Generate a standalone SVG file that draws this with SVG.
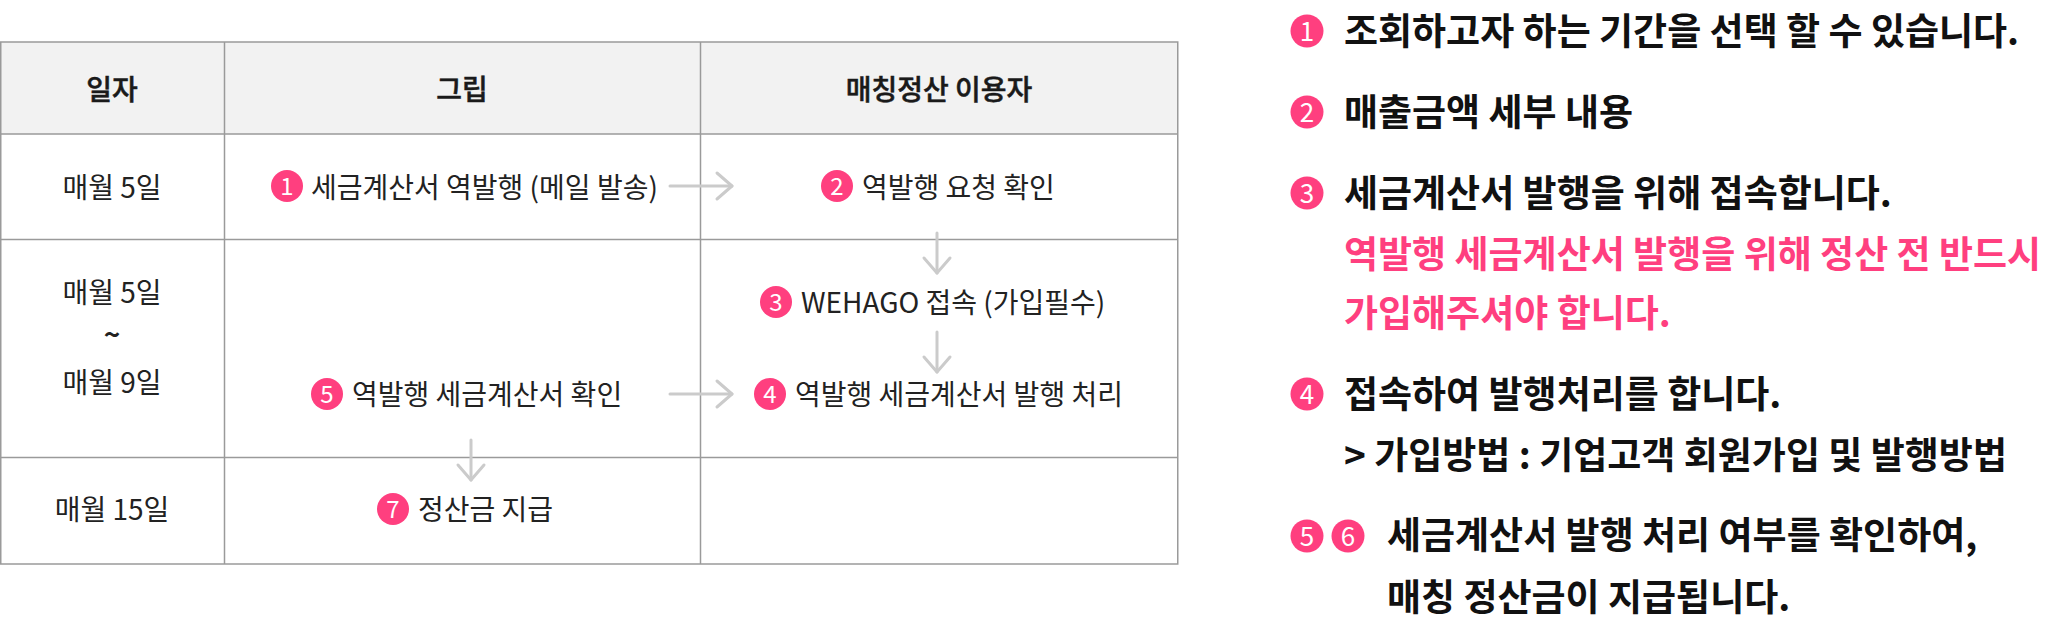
<svg xmlns="http://www.w3.org/2000/svg" width="2048" height="625" viewBox="0 0 2048 625">
<defs>
<style>
.t{font-family:"Noto Sans CJK KR","Noto Sans",sans-serif;font-size:28px;fill:#222;}
.h{font-family:"Noto Sans CJK KR","Noto Sans",sans-serif;font-size:28px;font-weight:500;fill:#1a1a1a;stroke:#1a1a1a;stroke-width:0.5;}
.c{text-anchor:middle;}
.n{font-family:"Noto Sans CJK KR","Noto Sans",sans-serif;font-size:24px;fill:#fff;text-anchor:middle;}
.nb{font-family:"Noto Sans CJK KR","Noto Sans",sans-serif;font-size:26px;fill:#fff;text-anchor:middle;}
.b{font-family:"Noto Sans CJK KR","Noto Sans",sans-serif;font-size:37px;font-weight:700;fill:#111;}
.p{fill:#ff3f7f;}
.grid{stroke:#9a9a9a;stroke-width:1.5;fill:none;}
.conn{stroke:#cbcbcb;stroke-width:3;fill:none;stroke-linecap:round;}
</style>
<marker id="arr" markerUnits="userSpaceOnUse" viewBox="0 0 40 40" markerWidth="40" markerHeight="40" refX="20" refY="20" orient="auto" overflow="visible">
<path d="M5,7 L20,20 L5,33" fill="none" stroke="#cbcbcb" stroke-width="3" stroke-linecap="round" stroke-linejoin="round"/>
</marker>
</defs>
<rect width="2048" height="625" fill="#fff"/>

<g id="table">
<rect x="0.75" y="42" width="1177" height="92" fill="#f2f2f2"/>
<rect class="grid" x="0.75" y="42" width="1177" height="522"/>
<line class="grid" x1="0" y1="134" x2="1178" y2="134"/>
<line class="grid" x1="0" y1="239.5" x2="1178" y2="239.5"/>
<line class="grid" x1="0" y1="457.5" x2="1178" y2="457.5"/>
<line class="grid" x1="224.5" y1="42" x2="224.5" y2="564"/>
<line class="grid" x1="700.5" y1="42" x2="700.5" y2="564"/>
</g>

<g id="header">
<text class="h c" x="112" y="99.5">일자</text>
<text class="h c" x="462" y="99.5">그립</text>
<text class="h c" x="939" y="99.5">매칭정산 이용자</text>
</g>

<g id="dates">
<text class="t c" x="112" y="197.5">매월 5일</text>
<text class="t c" x="112" y="302.5">매월 5일</text>
<text class="t c" x="112" y="345" font-weight="700">~</text>
<text class="t c" x="112" y="392.5">매월 9일</text>
<text class="t c" x="112" y="519.5">매월 15일</text>
</g>

<g id="step1">
<circle class="p" cx="287" cy="186" r="16"/>
<text class="n" x="287" y="194.5">1</text>
<text class="t" x="311" y="197.5">세금계산서 역발행 (메일 발송)</text>
</g>
<g id="step2">
<circle class="p" cx="837" cy="186" r="16"/>
<text class="n" x="837" y="194.5">2</text>
<text class="t" x="862" y="197.5">역발행 요청 확인</text>
</g>
<g id="step3">
<circle class="p" cx="776" cy="302" r="16"/>
<text class="n" x="776" y="310.5">3</text>
<text class="t" x="801" y="312.5">WEHAGO 접속 (가입필수)</text>
</g>
<g id="step4">
<circle class="p" cx="770" cy="394" r="16"/>
<text class="n" x="770" y="402.5">4</text>
<text class="t" x="795" y="404.5">역발행 세금계산서 발행 처리</text>
</g>
<g id="step5">
<circle class="p" cx="327" cy="394" r="16"/>
<text class="n" x="327" y="402.5">5</text>
<text class="t" x="352" y="404.5">역발행 세금계산서 확인</text>
</g>
<g id="step7">
<circle class="p" cx="393" cy="509" r="16"/>
<text class="n" x="393" y="517.5">7</text>
<text class="t" x="418" y="519.5">정산금 지급</text>
</g>

<g id="connectors">
<line class="conn" x1="670" y1="186" x2="732" y2="186" marker-end="url(#arr)"/>
<line class="conn" x1="937" y1="233" x2="937" y2="273" marker-end="url(#arr)"/>
<line class="conn" x1="937" y1="332" x2="937" y2="372" marker-end="url(#arr)"/>
<line class="conn" x1="670" y1="394" x2="732" y2="394" marker-end="url(#arr)"/>
<line class="conn" x1="471" y1="440" x2="471" y2="480" marker-end="url(#arr)"/>
</g>

<g id="note1">
<circle class="p" cx="1307" cy="31" r="16.5"/>
<text class="nb" x="1307" y="40.5">1</text>
<text class="b" x="1344" y="45">조회하고자 하는 기간을 선택 할 수 있습니다.</text>
</g>
<g id="note2">
<circle class="p" cx="1307" cy="112" r="16.5"/>
<text class="nb" x="1307" y="121.5">2</text>
<text class="b" x="1344" y="126">매출금액 세부 내용</text>
</g>
<g id="note3">
<circle class="p" cx="1307" cy="193" r="16.5"/>
<text class="nb" x="1307" y="202.5">3</text>
<text class="b" x="1344" y="207">세금계산서 발행을 위해 접속합니다.</text>
<text class="b p" x="1344" y="268">역발행 세금계산서 발행을 위해 정산 전 반드시</text>
<text class="b p" x="1344" y="326.5">가입해주셔야 합니다.</text>
</g>
<g id="note4">
<circle class="p" cx="1307" cy="394" r="16.5"/>
<text class="nb" x="1307" y="403.5">4</text>
<text class="b" x="1344" y="408">접속하여 발행처리를 합니다.</text>
<text class="b" x="1344" y="469">&gt; 가입방법 : 기업고객 회원가입 및 발행방법</text>
</g>
<g id="note56">
<circle class="p" cx="1307" cy="536" r="16.5"/>
<text class="nb" x="1307" y="545.5">5</text>
<circle class="p" cx="1348" cy="536" r="16.5"/>
<text class="nb" x="1348" y="545.5">6</text>
<text class="b" x="1387" y="549">세금계산서 발행 처리 여부를 확인하여,</text>
<text class="b" x="1387" y="611">매칭 정산금이 지급됩니다.</text>
</g>
</svg>
